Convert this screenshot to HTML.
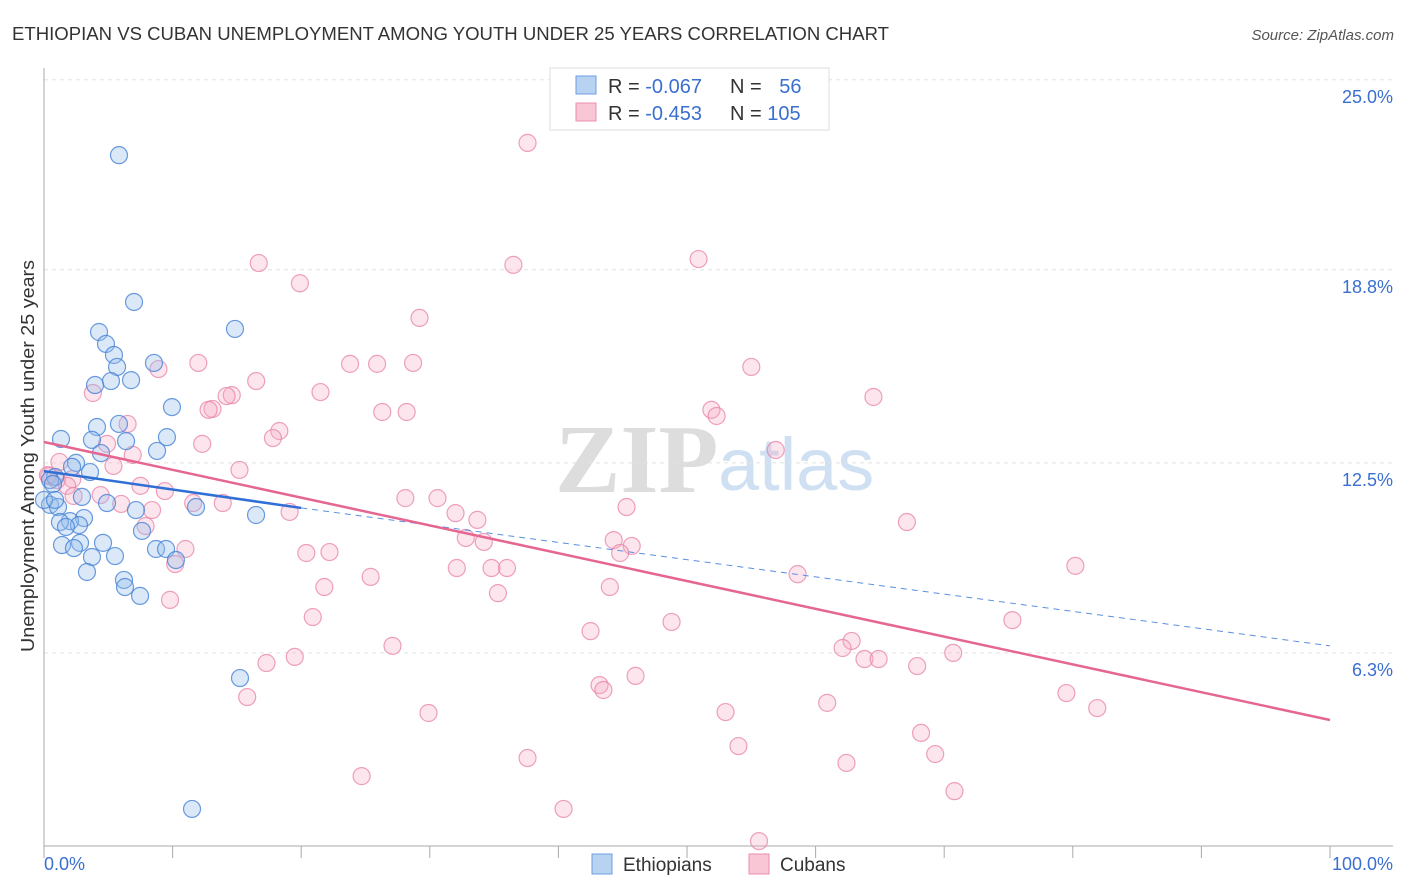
<!DOCTYPE html>
<html><head><meta charset="utf-8">
<style>
body{margin:0;background:#fff;font-family:"Liberation Sans",sans-serif;}
svg{display:block}
</style></head>
<body>
<svg id="chart" width="1406" height="892" xmlns="http://www.w3.org/2000/svg">
<text x="12" y="40" font-size="18" fill="#333" font-family="Liberation Sans" textLength="877" lengthAdjust="spacingAndGlyphs">ETHIOPIAN VS CUBAN UNEMPLOYMENT AMONG YOUTH UNDER 25 YEARS CORRELATION CHART</text>
<text x="1394" y="40" font-size="15" fill="#555" font-style="italic" text-anchor="end">Source: ZipAtlas.com</text>
<g>
<text x="555" y="492" font-size="98" fill="#ddd" font-family="Liberation Serif" font-weight="bold">ZIP</text>
<text x="718" y="490" font-size="74" fill="#cfe0f3" font-family="Liberation Sans">atlas</text>
</g>
<g id="grid"></g>
<g id="axes"></g>
<g id="points"></g>
<g id="trends"></g>
<text transform="translate(34,456) rotate(-90)" font-size="18" fill="#333" text-anchor="middle" textLength="392" lengthAdjust="spacingAndGlyphs">Unemployment Among Youth under 25 years</text>
<g>
<rect x="550" y="68" width="279" height="62" fill="#fff" stroke="#ddd"/>
<rect x="576" y="76" width="20" height="18" fill="#b8d2f2" stroke="#6d9de0"/>
<rect x="576" y="103" width="20" height="18" fill="#f9c6d6" stroke="#eb8fae"/>
<text x="608" y="93" font-size="20" fill="#333">R = <tspan fill="#3a6fd0">-0.067</tspan></text>
<text x="730" y="93" font-size="20" fill="#333">N = <tspan fill="#3a6fd0" dx="12">56</tspan></text>
<text x="608" y="120" font-size="20" fill="#333">R = <tspan fill="#3a6fd0">-0.453</tspan></text>
<text x="730" y="120" font-size="20" fill="#333">N = <tspan fill="#3a6fd0">105</tspan></text>
</g>
<g>
<rect x="592" y="854" width="20" height="20" fill="#b8d2f2" stroke="#6d9de0"/>
<text x="623" y="871" font-size="19" fill="#333">Ethiopians</text>
<rect x="749" y="854" width="20" height="20" fill="#f9c6d6" stroke="#eb8fae"/>
<text x="780" y="871" font-size="19" fill="#333">Cubans</text>
</g>
</svg>
<script>
const yTicks=[25.0,18.8,12.5,6.3];
const yTickLabels=["25.0%","18.8%","12.5%","6.3%"];
const xTickLabels=["0.0%","100.0%"];
const ethX=[5.83,7.0,4.28,14.85,4.82,5.44,5.68,8.55,6.77,5.21,3.97,9.95,4.12,5.83,1.32,3.73,6.38,9.56,8.79,4.43,2.49,2.18,3.58,0.86,0.47,0.70,2.95,4.90,11.82,0.47,1.09,7.15,16.49,3.11,2.02,1.24,2.72,1.71,7.62,4.59,1.40,2.80,2.33,8.71,9.49,5.52,3.73,10.26,3.34,6.22,6.30,7.47,15.24,11.51,0.0,0.86];
const ethY=[22.54,17.75,16.77,16.87,16.38,16.02,15.63,15.76,15.20,15.17,15.04,14.32,13.67,13.77,13.28,13.25,13.21,13.34,12.89,12.82,12.50,12.37,12.20,12.04,11.94,11.81,11.39,11.19,11.06,11.13,11.06,10.96,10.80,10.70,10.60,10.57,10.47,10.41,10.28,9.89,9.82,9.89,9.72,9.69,9.69,9.46,9.43,9.33,8.94,8.68,8.45,8.16,5.48,1.21,11.29,11.29];
const cubX=[37.6,16.7,36.5,50.9,19.9,29.2,12.0,23.8,25.9,28.7,8.9,55.0,16.5,3.8,21.5,64.5,14.6,14.2,13.1,12.8,26.3,28.2,51.9,52.3,6.5,18.3,17.8,12.3,4.9,56.9,6.9,1.2,5.4,15.2,0.4,2.2,1.0,1.8,7.5,9.4,4.4,2.3,28.1,30.6,13.9,11.6,45.3,32.0,8.4,19.1,6.0,33.7,67.1,7.9,32.8,34.2,44.3,45.7,20.4,22.2,44.8,11.0,10.2,80.2,32.1,34.8,36.0,25.4,58.6,21.8,44.0,35.3,9.8,20.9,75.3,48.8,42.5,62.8,62.1,27.1,70.7,63.8,64.9,19.5,17.3,67.9,46.0,43.2,43.5,15.8,79.5,60.9,81.9,29.9,53.0,68.2,54.0,69.3,37.6,62.4,24.7,70.8,40.4,55.6,0.3];
const cubY=[22.94,19.02,18.96,19.15,18.36,17.23,15.76,15.73,15.73,15.76,15.56,15.63,15.17,14.78,14.81,14.65,14.71,14.68,14.26,14.23,14.16,14.16,14.23,14.03,13.77,13.54,13.31,13.12,13.12,12.92,12.76,12.53,12.40,12.27,12.07,11.97,11.94,11.75,11.75,11.58,11.45,11.42,11.35,11.35,11.19,11.19,11.06,10.86,10.96,10.90,11.16,10.64,10.57,10.44,10.05,9.92,9.98,9.79,9.56,9.59,9.56,9.69,9.20,9.14,9.07,9.07,9.07,8.78,8.87,8.45,8.45,8.25,8.03,7.47,7.37,7.31,7.01,6.69,6.46,6.53,6.30,6.10,6.10,6.17,5.97,5.87,5.55,5.25,5.09,4.86,4.99,4.67,4.50,4.34,4.37,3.69,3.26,3.00,2.87,2.71,2.28,1.79,1.21,0.16,12.1];
const ethTrend=[[0,12.23],[20,11.03],[100,6.53]];
const cubTrend=[[0,13.18],[100,4.11]];

const NS="http://www.w3.org/2000/svg";
const X0=44,X1=1330,Y0=846,YPER=30.65;
const sx=v=>X0+(X1-X0)*v/100;
const sy=v=>Y0-v*YPER;
function mk(tag,attrs,parent){const e=document.createElementNS(NS,tag);for(const k in attrs)e.setAttribute(k,attrs[k]);parent.appendChild(e);return e;}
const grid=document.getElementById('grid'),axes=document.getElementById('axes'),pts=document.getElementById('points'),tr=document.getElementById('trends');
yTicks.forEach((t,i)=>{
 const l=mk('line',{x1:X0,x2:1393,y1:sy(t),y2:sy(t),stroke:'#e2e2e2','stroke-dasharray':'4,4'},grid);
 
 
 const tx=mk('text',{x:1393,y:sy(t)+23,'font-size':18,fill:'#3a6fd0','text-anchor':'end'},axes);
 tx.textContent=yTickLabels[i];
 
 
});
const xa=mk('line',{x1:X0,x2:1393,y1:846,y2:846,stroke:'#aaa'},axes);


const ya=mk('line',{x1:X0,x2:X0,y1:68,y2:846,stroke:'#aaa'},axes);


for(let i=0;i<=10;i++){
 const t=mk('line',{x1:sx(i*10),x2:sx(i*10),y1:846,y2:858,stroke:'#aaa'},axes);
 
 
}
[[0,'start',X0],[1,'end',1393]].forEach(([i,a,x])=>{
 const tx=mk('text',{x:x,y:870,'font-size':18,fill:'#3a6fd0','text-anchor':a},axes);
 tx.textContent=xTickLabels[i];
 
 
});
cubX.forEach((v,i)=>{
 const c=mk('circle',{cx:sx(v),cy:sy(cubY[i]),r:8.5,fill:'rgba(246,168,194,0.3)',stroke:'rgba(232,130,165,0.75)','stroke-width':1.2},pts);
 
 
});
ethX.forEach((v,i)=>{
 const c=mk('circle',{cx:sx(v),cy:sy(ethY[i]),r:8.5,fill:'rgba(150,190,236,0.35)',stroke:'rgba(70,130,215,0.8)','stroke-width':1.2},pts);
 
 
});
const e1=mk('line',{x1:sx(ethTrend[0][0]),y1:sy(ethTrend[0][1]),x2:sx(ethTrend[1][0]),y2:sy(ethTrend[1][1]),stroke:'#2f6fd6','stroke-width':2.5},tr);


const e2=mk('line',{x1:sx(ethTrend[1][0]),y1:sy(ethTrend[1][1]),x2:sx(ethTrend[2][0]),y2:sy(ethTrend[2][1]),stroke:'#5b8fe0','stroke-width':1,'stroke-dasharray':'6,5'},tr);


const c1=mk('line',{x1:sx(cubTrend[0][0]),y1:sy(cubTrend[0][1]),x2:sx(cubTrend[1][0]),y2:sy(cubTrend[1][1]),stroke:'#e5668f','stroke-width':2.5},tr);


</script>
</body></html>
